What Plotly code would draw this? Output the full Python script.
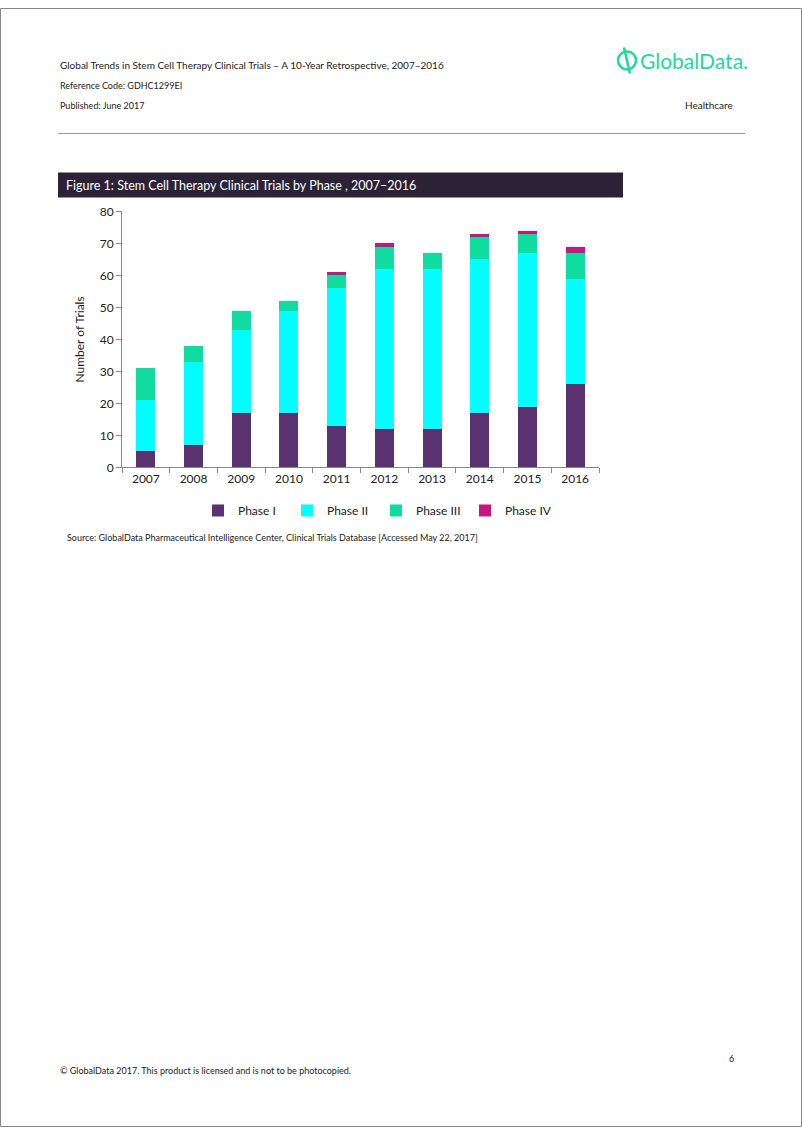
import plotly.graph_objects as go

years = ["2007", "2008", "2009", "2010", "2011", "2012", "2013", "2014", "2015", "2016"]
phase_1 = [5, 7, 17, 17, 13, 12, 12, 17, 19, 26]
phase_2 = [16, 26, 26, 32, 43, 50, 50, 48, 48, 33]
phase_3 = [10, 5, 6, 3, 4, 7, 5, 7, 6, 8]
phase_4 = [0, 0, 0, 0, 1, 1, 0, 1, 1, 2]
series_names = ["Phase I", "Phase II", "Phase III", "Phase IV"]
colors = ["#5A3270", "#00FFFF", "#10DCA0", "#C8157F"]
y_ticks = [0, 10, 20, 30, 40, 50, 60, 70, 80]

W, H = 802, 1134
FONT = "Lato, 'Open Sans', sans-serif"

def px(x):
    return x / W

def py(y):
    # page-to-paper mapping (compensates for the capture's vertical offset/scale)
    p = (y - 7.5) / 0.9868
    p = min(max(p, 0.5), H - 0.5)
    return 1 - p / H

fig = go.Figure()
for name, vals, col in zip(series_names, [phase_1, phase_2, phase_3, phase_4], colors):
    fig.add_trace(go.Bar(x=years, y=vals, name=name, marker=dict(color=col, line=dict(width=0))))

fig.update_layout(
    width=W, height=H,
    margin=dict(l=0, r=0, t=0, b=0),
    paper_bgcolor="white", plot_bgcolor="white",
    barmode="stack", bargap=0.6,
    font=dict(family=FONT, color="#222222"),
    xaxis=dict(domain=[px(122), px(599)], showline=True, linecolor="#888888", linewidth=1,
               ticks="outside", tickson="boundaries", ticklen=5, tickcolor="#888888",
               tickfont=dict(size=12, color="#222222"), showgrid=False, fixedrange=True),
    yaxis=dict(domain=[py(467), py(211)], range=[0, 80], tickvals=y_ticks,
               showline=True, linecolor="#888888", linewidth=1, ticks="outside", ticklen=5,
               tickcolor="#888888", tickfont=dict(size=12, color="#222222"), showgrid=False,
               zeroline=False, fixedrange=True,
               title=dict(text="Number of Trials", font=dict(size=12, color="#222222"), standoff=12)),
    legend=dict(orientation="h", x=px(376), xanchor="center", y=py(510), yanchor="middle",
                font=dict(size=12, color="#222222"), entrywidth=44, entrywidthmode="pixels",
                itemwidth=30, itemclick=False, itemdoubleclick=False, traceorder="normal"),
    showlegend=True,
)

shapes = [
    dict(type="rect", xref="paper", yref="paper", x0=px(0.5), x1=px(801.5), y0=py(1133.5), y1=py(0.5),
         line=dict(color="#888888", width=1), fillcolor="rgba(0,0,0,0)"),
    dict(type="line", xref="paper", yref="paper", x0=px(58), x1=px(745), y0=py(133), y1=py(133),
         line=dict(color="#999999", width=1)),
    dict(type="rect", xref="paper", yref="paper", x0=px(58), x1=px(623), y0=py(197), y1=py(172),
         line=dict(width=0), fillcolor="#2B2236"),
    # logo icon
    dict(type="circle", xref="paper", yref="paper", x0=px(618), x1=px(636), y0=py(69), y1=py(51),
         line=dict(color="#1ED99A", width=2.5), fillcolor="rgba(0,0,0,0)"),
    dict(type="line", xref="paper", yref="paper", x0=px(624), x1=px(630), y0=py(47), y1=py(73),
         line=dict(color="#1ED99A", width=2.5)),
]
fig.update_layout(shapes=shapes)

def txt(x, y, s, size=10, color="#222222", xanchor="left", yanchor="middle"):
    fig.add_annotation(xref="paper", yref="paper", x=px(x), y=py(y), text=s,
                       showarrow=False, xanchor=xanchor, yanchor=yanchor,
                       font=dict(size=size, color=color, family=FONT))

txt(58, 65, "Global Trends in Stem Cell Therapy Clinical Trials – A 10-Year Retrospective, 2007–2016", 10)
txt(58, 85, "Reference Code: GDHC1299EI", 9)
txt(58, 105, "Published: June 2017", 9)
txt(735, 105, "Healthcare", 10, xanchor="right")
txt(638, 60, "GlobalData.", 21, color="#1ED99A")
txt(64, 185, "Figure 1: Stem Cell Therapy Clinical Trials by Phase , 2007–2016", 12.5, color="white")
txt(65, 537, "Source: GlobalData Pharmaceutical Intelligence Center, Clinical Trials Database [Accessed May 22, 2017]", 9)
txt(58, 1070, "© GlobalData 2017. This product is licensed and is not to be photocopied.", 9)
txt(736, 1058, "6", 9, xanchor="right")

fig.write_html("out.html", config={"displayModeBar": False})

# remove default page margins so the figure aligns with the window
with open("out.html", "r", encoding="utf-8") as f:
    html = f.read()
html = html.replace("<head>", "<head><style>html,body{margin:0;padding:0;overflow:hidden;}</style>", 1)
with open("out.html", "w", encoding="utf-8") as f:
    f.write(html)
